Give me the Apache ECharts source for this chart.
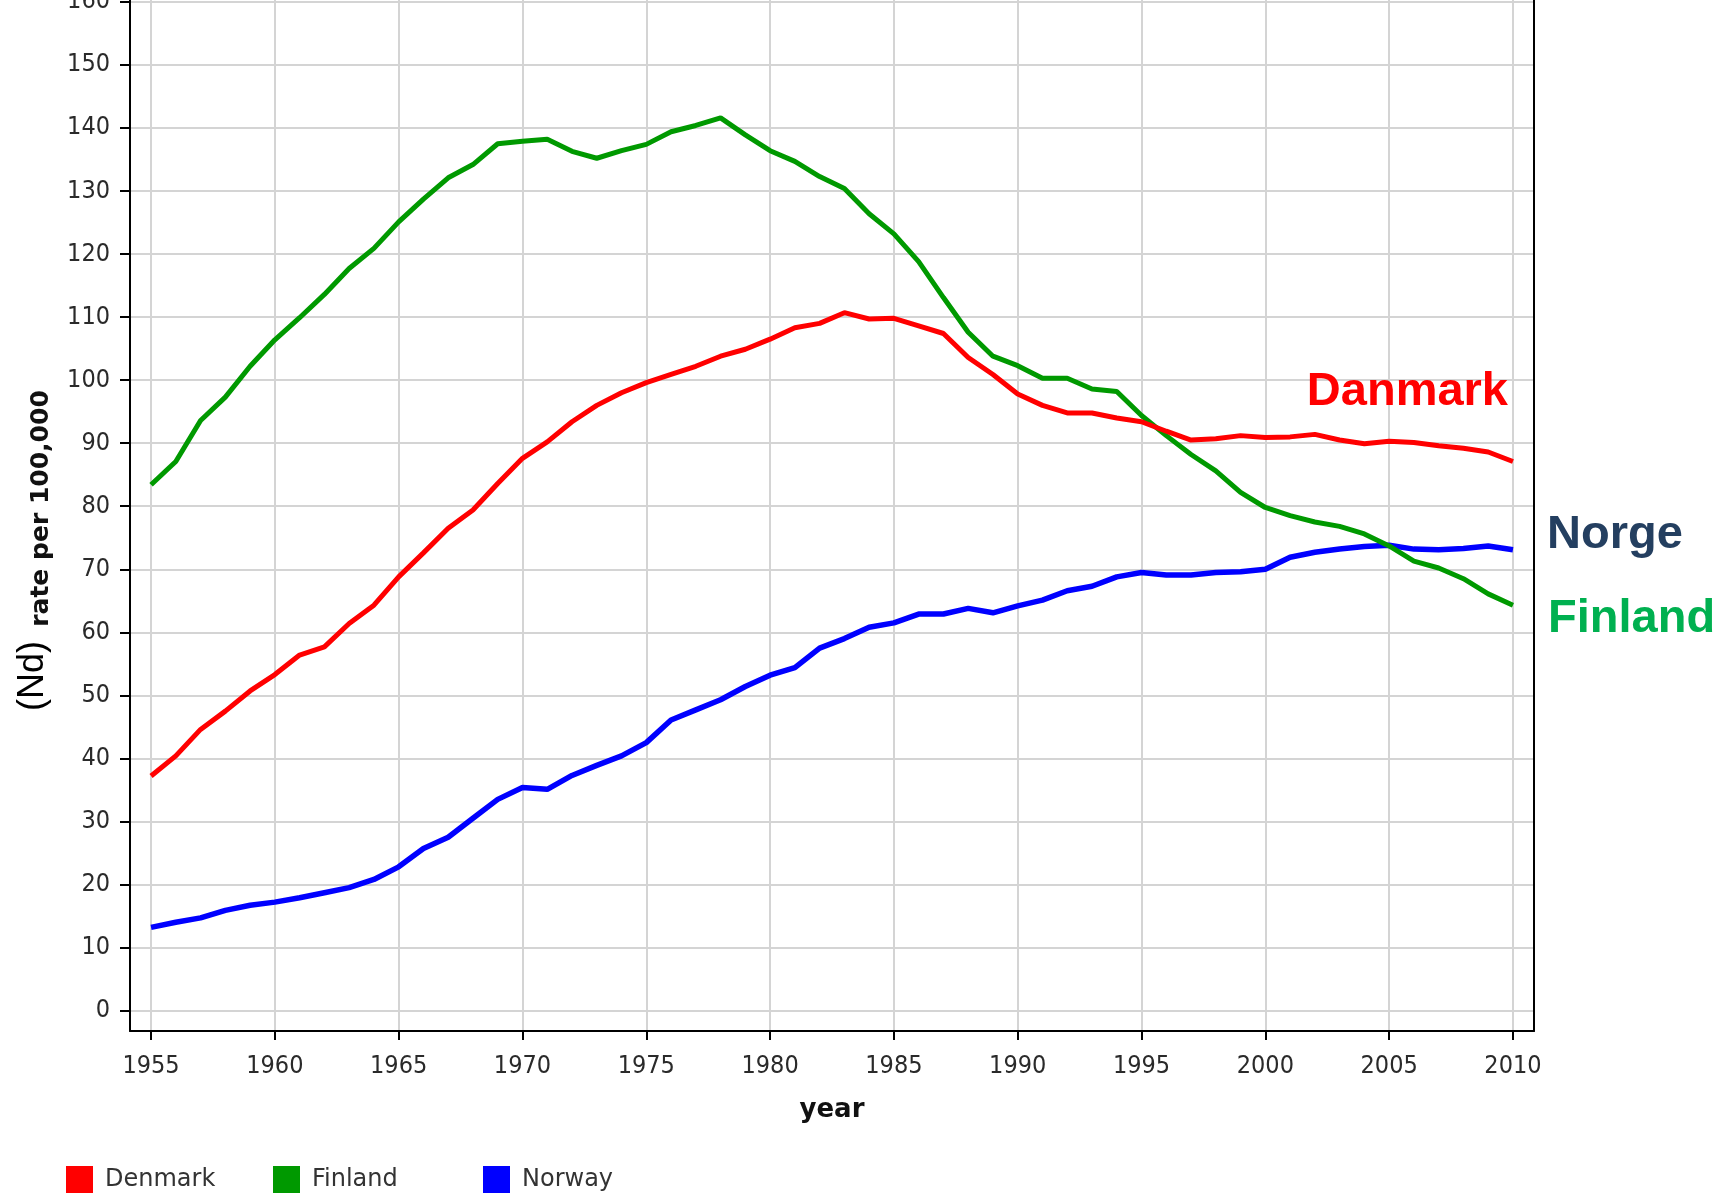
<!DOCTYPE html>
<html>
<head>
<meta charset="utf-8">
<title>Nd rate per 100,000 - Denmark, Finland, Norway</title>
<script src="https://cdn.jsdelivr.net/npm/echarts@6/dist/echarts.min.js"></script>
<style>
  html, body { margin: 0; padding: 0; background: #fff; }
  #chart { width: 1728px; height: 1196px; }
</style>
</head>
<body>
<div id="chart"></div>
<script>
// values
const years = [
    1955, 1956, 1957, 1958, 1959, 1960, 1961, 1962, 1963, 1964,
    1965, 1966, 1967, 1968, 1969, 1970, 1971, 1972, 1973, 1974,
    1975, 1976, 1977, 1978, 1979, 1980, 1981, 1982, 1983, 1984,
    1985, 1986, 1987, 1988, 1989, 1990, 1991, 1992, 1993, 1994,
    1995, 1996, 1997, 1998, 1999, 2000, 2001, 2002, 2003, 2004,
    2005, 2006, 2007, 2008, 2009, 2010
];

const denmark = [
    37.2, 40.4, 44.6, 47.5, 50.7, 53.3, 56.4, 57.7, 61.4, 64.3,
    68.8, 72.6, 76.5, 79.4, 83.6, 87.6, 90.2, 93.4, 96.0, 98.0,
    99.6, 100.9, 102.2, 103.8, 104.9, 106.5, 108.3, 109.0, 110.7, 109.7,
    109.8, 108.6, 107.4, 103.6, 100.9, 97.8, 96.0, 94.8, 94.8, 94.0,
    93.4, 91.9, 90.5, 90.7, 91.2, 90.9, 91.0, 91.4, 90.5, 89.9,
    90.3, 90.1, 89.6, 89.2, 88.6, 87.1
];

const finland = [
    83.4, 87.1, 93.6, 97.3, 102.2, 106.4, 109.9, 113.6, 117.7, 120.9,
    125.1, 128.7, 132.1, 134.2, 137.5, 137.9, 138.2, 136.3, 135.2, 136.4,
    137.4, 139.4, 140.4, 141.6, 138.9, 136.4, 134.7, 132.3, 130.4, 126.4,
    123.2, 118.8, 113.1, 107.6, 103.8, 102.3, 100.3, 100.3, 98.6, 98.2,
    94.4, 91.2, 88.2, 85.6, 82.2, 79.8, 78.5, 77.5, 76.8, 75.6,
    73.7, 71.3, 70.2, 68.5, 66.1, 64.3
];

const norway = [
    13.2, 14.0, 14.7, 15.9, 16.7, 17.2, 17.9, 18.7, 19.5, 20.8,
    22.8, 25.7, 27.5, 30.5, 33.5, 35.4, 35.1, 37.3, 38.9, 40.4,
    42.5, 46.1, 47.7, 49.3, 51.4, 53.2, 54.4, 57.5, 59.0, 60.8,
    61.5, 62.9, 62.9, 63.8, 63.1, 64.2, 65.1, 66.6, 67.3, 68.8,
    69.5, 69.1, 69.1, 69.5, 69.6, 70.0, 71.9, 72.7, 73.2, 73.6,
    73.8, 73.2, 73.1, 73.3, 73.7, 73.1
];

const xTicks = [1955, 1960, 1965, 1970, 1975, 1980, 1985, 1990, 1995, 2000, 2005, 2010];
const yTicks = [0, 10, 20, 30, 40, 50, 60, 70, 80, 90, 100, 110, 120, 130, 140, 150, 160];

const seriesNames = ['Denmark', 'Finland', 'Norway'];
const seriesColors = ['#ff0000', '#009900', '#0000ff'];

// plot range (the chart pads the data a little on every side)
const X_MIN = 1954.15, X_MAX = 2010.85;
const Y_MIN = -3.24, Y_MAX = 160.3;

const tickFont = '"DejaVu Sans Condensed", "DejaVu Sans", sans-serif';
const boldFont = '"DejaVu Sans", sans-serif';
const labelFont = '"Liberation Sans", Arial, sans-serif';

const pairs = vals => years.map((y, i) => [y, vals[i]]);

// one legend per entry, so the entries sit on fixed columns like the original
const legendLefts = [66, 273, 483];
const legends = seriesNames.map((name, i) => ({
    left: legendLefts[i],
    top: 1166,
    padding: 0,
    icon: 'rect',
    itemWidth: 27,
    itemHeight: 27,
    data: [name],
    textStyle: {
        fontFamily: '"DejaVu Sans", sans-serif', fontSize: 24, color: '#333',
        padding: [4, 0, 0, 7]
    }
}));

const chart = echarts.init(document.getElementById('chart'));

chart.setOption({
    animation: false,
    backgroundColor: '#ffffff',
    grid: { left: 130, right: 194, top: 0, bottom: 165, outerBoundsMode: 'none' },
    legend: legends,
    xAxis: {
        type: 'value',
        min: X_MIN,
        max: X_MAX,
        name: 'year',
        nameLocation: 'middle',
        nameGap: 66,
        nameTextStyle: { fontFamily: boldFont, fontWeight: 'bold', fontSize: 26, color: '#111' },
        axisLine: { show: true, onZero: false, lineStyle: { color: '#000', width: 2 } },
        axisTick: { show: true, customValues: xTicks, length: 9, lineStyle: { color: '#000', width: 2 } },
        axisLabel: {
            customValues: xTicks,
            formatter: v => String(v),
            margin: 23,
            fontFamily: tickFont, fontSize: 25, color: '#2a2a2a'
        },
        splitLine: { show: true, lineStyle: { color: '#d4d4d4', width: 2 } }
    },
    yAxis: [{
        type: 'value',
        min: Y_MIN,
        max: Y_MAX,
        name: 'rate per 100,000',
        nameLocation: 'middle',
        nameRotate: 90,
        nameGap: 76,
        nameTextStyle: {
            fontFamily: boldFont, fontWeight: 'bold', fontSize: 25, color: '#111',
            padding: [0, 0, 0, 14]
        },
        axisLine: { show: true, onZero: false, lineStyle: { color: '#000', width: 2 } },
        axisTick: { show: true, customValues: yTicks, length: 10, lineStyle: { color: '#000', width: 2 } },
        axisLabel: {
            customValues: yTicks,
            margin: 20,
            fontFamily: tickFont, fontSize: 25, color: '#2a2a2a'
        },
        splitLine: { show: true, lineStyle: { color: '#d4d4d4', width: 2 } }
    }, {
        // right border of the plot
        type: 'value',
        position: 'right',
        min: Y_MIN,
        max: Y_MAX,
        axisLine: { show: true, onZero: false, lineStyle: { color: '#000', width: 2 } },
        axisTick: { show: false },
        axisLabel: { show: false },
        splitLine: { show: false }
    }],
    series: [denmark, finland, norway].map((vals, i) => ({
        name: seriesNames[i],
        type: 'line',
        data: pairs(vals),
        showSymbol: false,
        symbol: 'none',
        color: seriesColors[i],
        lineStyle: { color: seriesColors[i], width: i === 2 ? 5.5 : 5 },
        z: 3 - i
    })),
    graphic: [
        {
            type: 'text', x: 33, y: 676, rotation: Math.PI / 2, z: 100,
            style: {
                text: '(Nd)', font: '36px ' + labelFont,
                fill: '#000', align: 'center', verticalAlign: 'middle'
            }
        },
        {
            type: 'text', x: 1508, y: 392, z: 100,
            style: {
                text: 'Danmark', font: 'bold 47px ' + labelFont,
                fill: '#ff0000', align: 'right', verticalAlign: 'middle'
            }
        },
        {
            type: 'text', x: 1547, y: 535, z: 100,
            style: {
                text: 'Norge', font: 'bold 47px ' + labelFont,
                fill: '#243f60', align: 'left', verticalAlign: 'middle'
            }
        },
        {
            type: 'text', x: 1548, y: 619, z: 100,
            style: {
                text: 'Finland', font: 'bold 47px ' + labelFont,
                fill: '#00b050', align: 'left', verticalAlign: 'middle'
            }
        }
    ]
});
</script>
</body>
</html>
